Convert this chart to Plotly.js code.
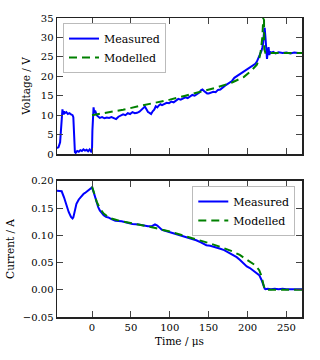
<!DOCTYPE html>
<html><head><meta charset="utf-8">
<script src="https://cdn.plot.ly/plotly-3.0.1.min.js"></script>
<style>html,body{margin:0;padding:0;background:#fff;}#c{width:320px;height:360px;}</style>
</head><body><div id="c"></div>
<script>
// Voltage, measured
var vMeasT = [-45,-43,-41,-40,-39,-38,-37,-36,-35,-33,-31,-29,-27,-25,-24,-23,-22,-21,-19,-17,-15,-13,-11,-9,-7,-5,-3,-1,0,0.5,1,2,3,4,6,8,10,13,16,19,22,25,28,31,34,37,40,43,46,49,52,55,58,61,64,66,68,70,72,74,76,78,80,82,84,86,88,90,93,96,99,102,105,108,111,114,117,120,123,126,129,132,135,138,140,142,144,146,148,150,153,156,159,162,165,168,171,174,177,180,183,186,189,192,195,198,201,204,207,210,212,214,216,218,219,220,221,222,223,224,225,226,227,228,229,230,233,236,240,245,250,255,260,265,270];
var vMeas  = [1.5,1.8,3,6,10,11.5,10.2,11,10.5,10.8,10.3,10.5,10.2,10,9.5,3,0.5,0.3,0.8,0.6,1.0,0.8,1.2,0.9,1.1,0.7,1.2,0.6,0.8,6,11.5,12,10.5,11.2,10,9.7,9.3,9.5,9.2,9.4,9.3,9.5,9.2,9.0,9.6,9.8,10.2,10.0,10.5,10.3,10.8,10.5,10.6,10.9,11.5,12.0,12.2,11.5,10.8,10.6,10.3,11.0,11.4,12.3,12.0,12.5,12.8,12.6,12.9,13.2,13.1,13.5,13.3,13.8,14.2,14.0,14.4,14.6,14.4,14.9,15.2,15.0,15.4,15.8,16.4,16.6,16.2,15.8,15.6,15.6,15.8,16.0,15.9,16.5,16.6,17.2,17.6,18.0,18.4,18.8,19.6,20.0,20.4,20.6,21.2,21.4,21.9,22.3,22.8,23.2,23.8,24.6,25.6,26.6,27.4,28.5,31,32.5,30,27,24.5,26.5,27.5,25.5,26.4,26.0,26.3,25.9,26.2,26.0,26.1,25.9,26.1,26.0,26.0];
// Voltage, modelled
var vModT = [0,20,40,60,80,100,120,140,160,180,195,205,212,215,217,219,220,221,221.5,223,240,270];
var vMod  = [10.0,10.7,11.4,12.3,13.1,14.0,15.0,16.0,17.1,18.4,19.8,21.5,23.0,24.5,26.5,30,38,38,27,26,26,26];
// Current, measured
var iMeasT = [-45,-42,-39,-36,-33,-30,-27,-25,-24,-22,-20,-17,-14,-11,-9,-6,-3,0,2,4,6,8,10,12.5,15,18,21,25,30,38,45,52,60,67,72,77,81,84,87,90,95,100,105,110,116,122,128,134,140,143,147,152,158,164,170,174,178,182,186,190,194,199,203,207,212,215,218,220,222,223,226,230,235,240,245,250,255,260,265,270];
var iMeas  = [0.182,0.182,0.181,0.17,0.154,0.143,0.134,0.131,0.133,0.145,0.158,0.166,0.172,0.176,0.178,0.181,0.184,0.188,0.18,0.17,0.16,0.152,0.146,0.141,0.137,0.134,0.133,0.130,0.127,0.126,0.123,0.121,0.120,0.118,0.117,0.117,0.120,0.118,0.114,0.110,0.108,0.106,0.104,0.101,0.099,0.096,0.094,0.091,0.087,0.085,0.082,0.081,0.079,0.076,0.073,0.070,0.067,0.063,0.060,0.055,0.049,0.043,0.040,0.036,0.031,0.027,0.018,0.009,0.002,0.001,0.002,0.001,0.002,0.001,0.002,0.001,0.001,0.002,0.001,0.001];
// Current, modelled
var iModT = [0,3,6,10,15,20,25,35,50,65,80,100,125,150,165,180,190,200,210,215,218,220,222,225,240,270];
var iMod  = [0.190,0.176,0.162,0.150,0.140,0.135,0.131,0.127,0.123,0.119,0.114,0.107,0.097,0.086,0.079,0.071,0.064,0.055,0.045,0.036,0.025,0.012,0.001,0.0,0.0,0.0];

var xTicks = [0,50,100,150,200,250];
var vTicks = [0,5,10,15,20,25,30,35];
var iTicks = [-0.05,0,0.05,0.1,0.15,0.2];
var iTickText = ['\u22120.05','0.00','0.05','0.10','0.15','0.20'];

var FONT = '"DejaVu Serif", "Liberation Serif", serif';
var blue = '#0000ff', green = '#008000';

var traces = [
  {x:vMeasT, y:vMeas, xaxis:'x', yaxis:'y', mode:'lines', name:'Measured', line:{color:blue,width:2}, legend:'legend'},
  {x:vModT, y:vMod, xaxis:'x', yaxis:'y', mode:'lines', name:'Modelled', line:{color:green,width:2,dash:'8px,5px'}, legend:'legend'},
  {x:iMeasT, y:iMeas, xaxis:'x2', yaxis:'y2', mode:'lines', name:'Measured', line:{color:blue,width:2}, legend:'legend2'},
  {x:iModT, y:iMod, xaxis:'x2', yaxis:'y2', mode:'lines', name:'Modelled', line:{color:green,width:2,dash:'8px,5px'}, legend:'legend2'}
];

var axBase = {showline:true, linecolor:'#222', linewidth:1.5, mirror:'ticks', ticks:'inside', ticklen:6, tickwidth:1, tickcolor:'#444', showgrid:false, zeroline:false, tickfont:{family:FONT,size:10,color:'#000'}};

var layout = {
  width:320, height:360,
  margin:{l:57, r:18, t:18, b:43},
  paper_bgcolor:'#fff', plot_bgcolor:'#fff',
  font:{family:FONT, size:10, color:'#000'},
  xaxis: Object.assign({}, axBase, {domain:[0,1], anchor:'y', range:[-45,270], tickvals:xTicks, showticklabels:false}),
  yaxis: Object.assign({}, axBase, {domain:[0.545,1], anchor:'x', range:[0,35], tickvals:vTicks, title:{text:'Voltage / V', font:{family:FONT,size:10.5}, standoff:8}}),
  xaxis2: Object.assign({}, axBase, {domain:[0,1], anchor:'y2', range:[-45,270], tickvals:xTicks, title:{text:'Time / \u03bcs', font:{family:FONT,size:10.5}, standoff:6}}),
  yaxis2: Object.assign({}, axBase, {domain:[0,0.455], anchor:'x2', range:[-0.05,0.20], tickvals:iTicks, ticktext:iTickText, title:{text:'Current / A', font:{family:FONT,size:10.5}, standoff:6}}),
  showlegend:true,
  legend:{x:0.0245, y:0.983, xanchor:'left', yanchor:'top', bgcolor:'rgba(255,255,255,0.9)', bordercolor:'#bbb', borderwidth:1, font:{family:FONT,size:11}, itemwidth:30, tracegroupgap:0},
  legend2:{x:0.9726, y:0.438, xanchor:'right', yanchor:'top', bgcolor:'rgba(255,255,255,0.9)', bordercolor:'#bbb', borderwidth:1, font:{family:FONT,size:11}, itemwidth:30, tracegroupgap:0}
};

Plotly.newPlot('c', traces, layout, {staticPlot:true, displayModeBar:false});
</script></body></html>
